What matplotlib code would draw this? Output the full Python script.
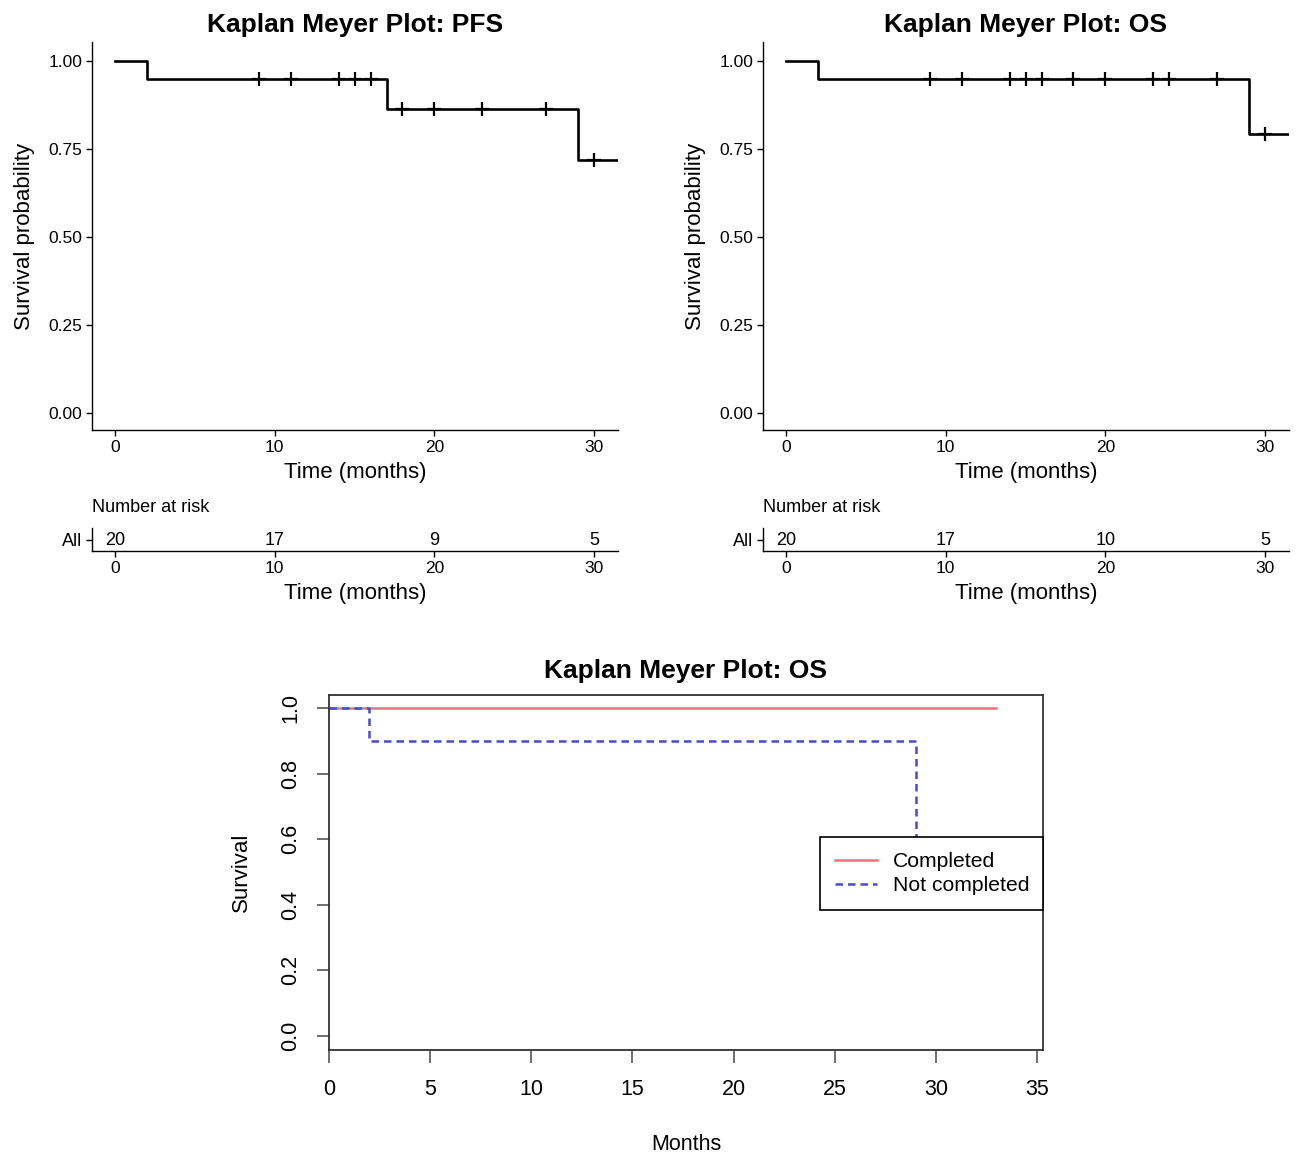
import numpy as np
import matplotlib
matplotlib.use("Agg")
import matplotlib.pyplot as plt

plt.rcParams["font.family"] = ["Liberation Sans", "DejaVu Sans"]

# PFS curve (steps) and censor times
pfs_times = [0, 2, 17, 29, 33]
pfs_surv = [1.0, 0.95, 0.864, 0.72, 0.72]
pfs_censor = [9, 11, 14, 15, 16, 18, 20, 23, 27, 30]
pfs_risk = [20, 17, 9, 5]

# OS curve
os_times = [0, 2, 29, 33]
os_surv = [1.0, 0.95, 0.792, 0.792]
os_censor = [9, 11, 14, 15, 16, 18, 20, 23, 24, 27, 30]
os_risk = [20, 17, 10, 5]

risk_ticks = [0, 10, 20, 30]

# bottom plot: OS by completion group
comp_times = [0, 33]
comp_surv = [1.0, 1.0]
notcomp_times = [0, 2, 29, 30]
notcomp_surv = [1.0, 0.9, 0.45, 0.45]
group_labels = ["Completed", "Not completed"]

W, H = 1298, 1153
fig = plt.figure(figsize=(W / 100, H / 100), dpi=100)


def px_axes(x0, y0, x1, y1):
    return fig.add_axes([x0 / W, 1 - y1 / H, (x1 - x0) / W, (y1 - y0) / H])


def step_at(times, surv, t):
    i = np.searchsorted(times, t, side="right") - 1
    return surv[i]


def km_panel(x0, title, times, surv, censor, risk):
    ax = px_axes(x0, 42, x0 + 526, 430)
    ax.step(times, surv, where="post", color="black", lw=1.9)
    cy = [step_at(times, surv, t) for t in censor]
    ax.plot(censor, cy, ls="none", marker="+", ms=10, mew=1.6, color="black")
    ax.set_xlim(-1.45, 31.5)
    ax.set_ylim(-0.048, 1.054)
    ax.set_yticks([0, 0.25, 0.5, 0.75, 1.0])
    ax.set_yticklabels(["0.00", "0.25", "0.50", "0.75", "1.00"])
    ax.set_xticks(risk_ticks)
    for s in ["top", "right"]:
        ax.spines[s].set_visible(False)
    for s in ["left", "bottom"]:
        ax.spines[s].set_linewidth(1.0)
    ax.tick_params(labelsize=12.5, length=4, width=1.0, pad=3)
    ax.set_ylabel("Survival probability", fontsize=16, labelpad=10)
    ax.set_xlabel("Time (months)", fontsize=16, labelpad=5)
    ax.set_title(title, fontsize=19, fontweight="bold", pad=7)

    # risk table
    rt = px_axes(x0, 528, x0 + 526, 551)
    rt.set_xlim(-1.45, 31.5)
    rt.set_ylim(0, 1)
    for t, n in zip(risk_ticks, risk):
        rt.text(t, 0.45, str(n), ha="center", va="center", fontsize=13)
    rt.set_xticks(risk_ticks)
    rt.set_yticks([0.48])
    rt.set_yticklabels(["All"])
    for s in ["top", "right"]:
        rt.spines[s].set_visible(False)
    for s in ["left", "bottom"]:
        rt.spines[s].set_linewidth(1.0)
    rt.tick_params(labelsize=12.5, length=4, width=1.0, pad=3)
    rt.tick_params(axis="y", labelsize=13)
    rt.set_xlabel("Time (months)", fontsize=16, labelpad=5)
    fig.text(x0 / W, 1 - 507 / H, "Number at risk", fontsize=13,
             ha="left", va="center")


km_panel(92, "Kaplan Meyer Plot: PFS", pfs_times, pfs_surv, pfs_censor, pfs_risk)
km_panel(763, "Kaplan Meyer Plot: OS", os_times, os_surv, os_censor, os_risk)

# bottom base-R style plot
ax = px_axes(329, 695, 1043, 1050)
ax.step(comp_times, comp_surv, where="post", color="#f0707c", lw=1.8,
        label=group_labels[0])
ax.step(notcomp_times, notcomp_surv, where="post", color="#4a4ad0", lw=1.8,
        ls=(0, (3, 2)), label=group_labels[1])
ax.set_xlim(0, 35.3)
ax.set_ylim(-0.043, 1.04)
ax.set_xticks([0, 5, 10, 15, 20, 25, 30, 35])
ax.set_yticks([0, 0.2, 0.4, 0.6, 0.8, 1.0])
ax.set_yticklabels(["0.0", "0.2", "0.4", "0.6", "0.8", "1.0"],
                   rotation=90, va="center")
for s in ax.spines.values():
    s.set_linewidth(1.3)
    s.set_color("#333333")
ax.tick_params(labelsize=15.5, length=9, width=1.2, color="#555555")
ax.tick_params(axis="x", pad=12)
ax.tick_params(axis="y", pad=11)
ax.set_xlabel("Months", fontsize=15.5, labelpad=24)
ax.set_ylabel("Survival", fontsize=16, labelpad=20)
ax.set_title("Kaplan Meyer Plot: OS", fontsize=19, fontweight="bold", pad=12)
leg = ax.legend(loc="lower left", bbox_to_anchor=(0.688, 0.394, 0.312, 0.22),
                mode="expand", borderaxespad=0, fontsize=15.2, frameon=True,
                fancybox=False, edgecolor="black", framealpha=1,
                handlelength=2.0, handletextpad=0.75, labelspacing=0.25,
                borderpad=0.7)
leg.get_frame().set_linewidth(1.2)
leg.set_zorder(5)

fig.savefig("out.png", dpi=100)
